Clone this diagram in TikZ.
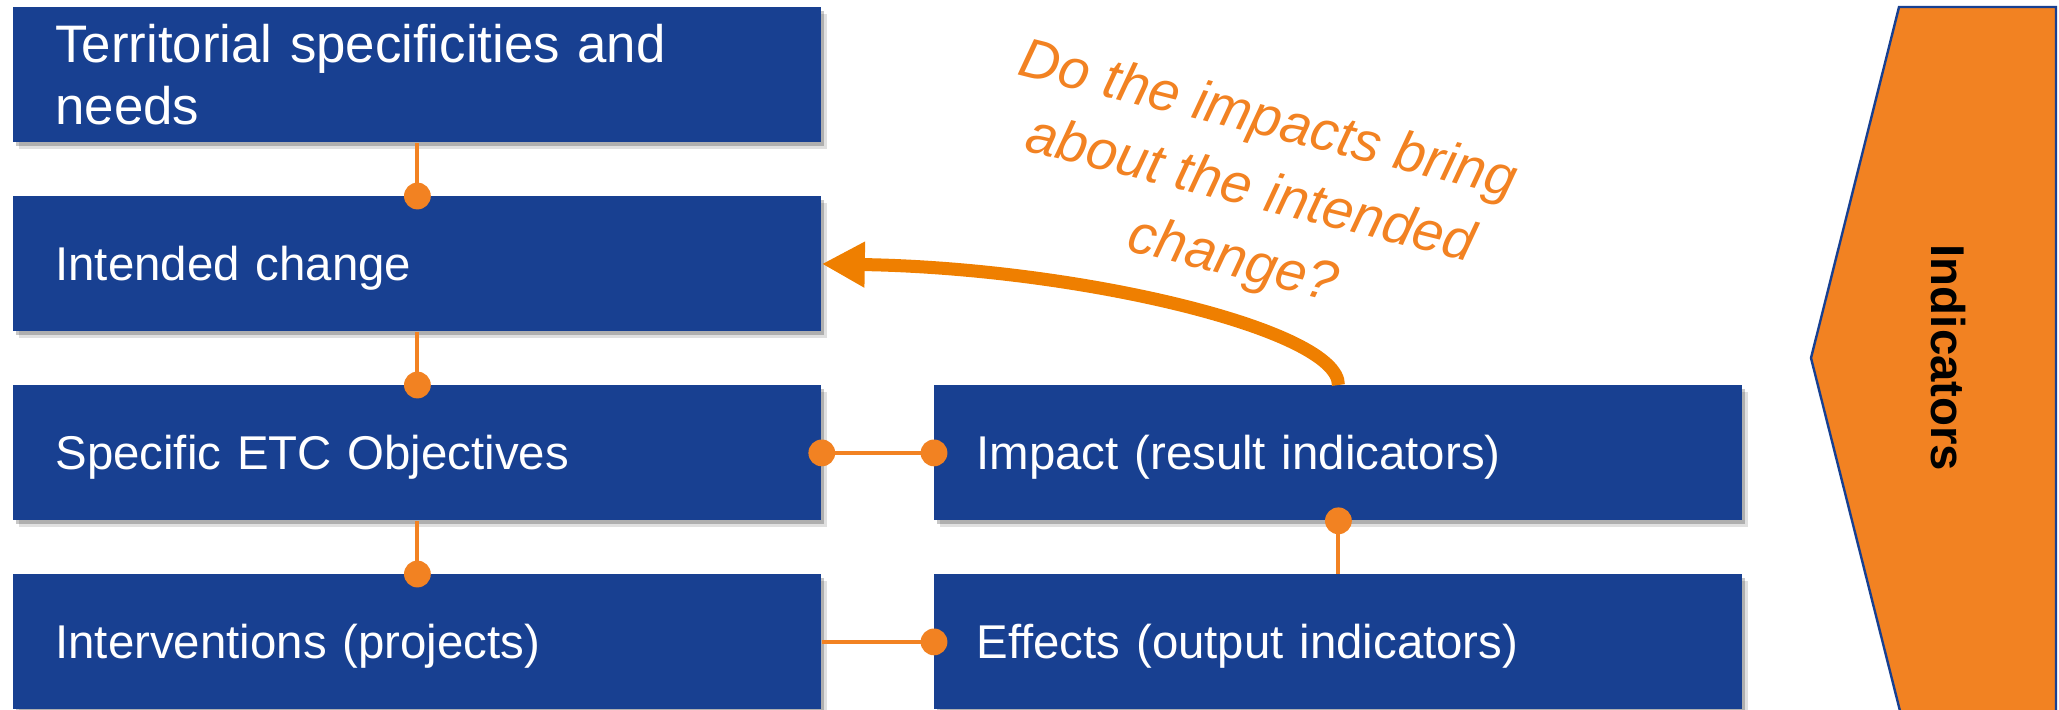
\documentclass[tikz,border=0pt]{standalone}
\usepackage{fontspec}
\setmainfont{Liberation Sans}
\usetikzlibrary{arrows.meta,shadows}
\definecolor{boxblue}{HTML}{184091}
\definecolor{dotorange}{HTML}{F28222}
\definecolor{arroworange}{HTML}{EF7F00}
\definecolor{indorange}{HTML}{F28222}
\begin{document}
\begin{tikzpicture}[x=0.5pt,y=-0.5pt,
  box/.style={fill=boxblue, anchor=north west, text=white,
    minimum height=67.5pt, inner xsep=21pt, text width=362pt, align=left,
    font=\fontsize{23.7pt}{31pt}\selectfont,
    drop shadow={shadow xshift=1.5pt, shadow yshift=-2pt, opacity=0.22, fill=black},
    drop shadow={shadow xshift=3pt, shadow yshift=-3.5pt, opacity=0.12, fill=black}},
  oneline/.style={text height=17pt, text depth=0pt},
  conn/.style={draw=dotorange, line width=2pt},
  dot/.style={fill=dotorange},
  bigarrow/.style={draw=arroworange, line width=6.5pt, -{Triangle[length=21.5pt,width=21.5pt]}},
]
\useasboundingbox (0,0) rectangle (2059,709);

% left column
\node[box, font=\fontsize{26.4pt}{31pt}\selectfont] (b1) at (13,7) {Territorial specificities and\\needs};
\node[box,oneline] (b2) at (13,196) {Intended change};
\node[box,oneline] (b3) at (13,385) {Specific ETC Objectives};
\node[box,oneline] (b4) at (13,574) {Interventions (projects)};
% right column
\node[box,oneline] (r1) at (934,385) {Impact (result indicators)};
\node[box,oneline] (r2) at (934,574) {Effects (output indicators)};

% connectors
\draw[conn] (b1.south) -- (b2.north);
\draw[conn] (b2.south) -- (b3.north);
\draw[conn] (b3.south) -- (b4.north);
\draw[conn] (b3.east) -- (r1.west);
\draw[conn] (b4.east) -- (r2.west);
\draw[conn] (r1.south) -- (r2.north);
\fill[dot] (b2.north) circle (6.7pt);
\fill[dot] (b3.north) circle (6.7pt);
\fill[dot] (b4.north) circle (6.7pt);
\fill[dot] (b3.east) circle (6.7pt);
\fill[dot] (r1.west) circle (6.7pt);
\fill[dot] (r2.west) circle (6.7pt);
\fill[dot] (r1.south) circle (6.7pt);

% curved arrow
\draw[bigarrow] (r1.north) .. controls (1339,330) and (1080,268) .. (b2.east);

% question
\node[rotate=-14, align=center, text=dotorange,
  font=\fontsize{27.8pt}{36pt}\selectfont\itshape] (q) at (1250,192)
  {Do the impacts bring\\about the intended\\change?};

% indicators chevron
\draw[fill=indorange, draw=boxblue, line width=1.2pt]
  (1899,7) -- (2056,7) -- (2056,715) -- (1901,715) -- (1811,358) -- cycle;
\node[rotate=-90, font=\fontsize{23.7pt}{28pt}\selectfont\bfseries] (ind) at (1948,358) {Indicators};
\end{tikzpicture}
\end{document}
